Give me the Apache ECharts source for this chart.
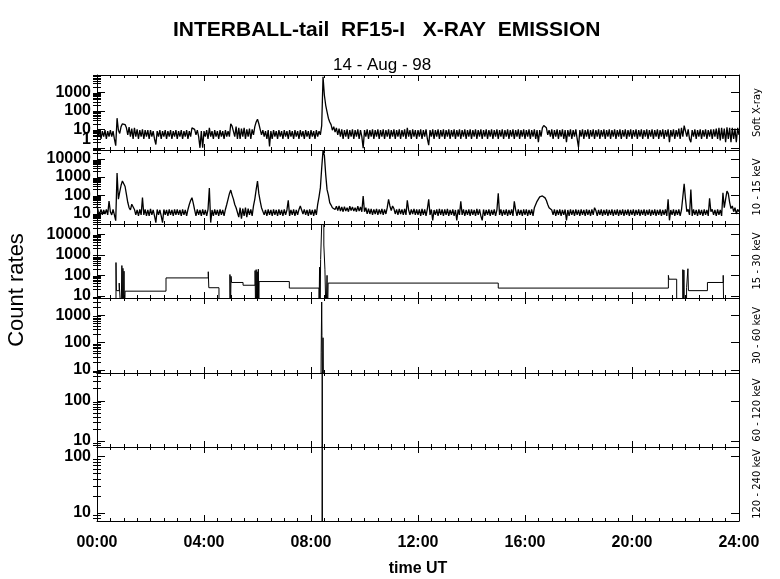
<!DOCTYPE html>
<html>
<head>
<meta charset="utf-8">
<title>INTERBALL-tail RF15-I X-ray emission</title>
<script src="https://cdn.jsdelivr.net/npm/echarts@6/dist/echarts.min.js"></script>
<style>
  html, body { margin: 0; padding: 0; background: #fff; }
  #main { width: 780px; height: 579px; }
</style>
</head>
<body>
<div id="main"></div>
<script>
// channel names (right hand labels), top to bottom
const channels = ['Soft X-ray', '10 - 15 keV', '15 - 30 keV', '30 - 60 keV', '60 - 120 keV', '120 - 240 keV']

// labelled decades on each panel
const decadeTicks = [
    [1, 10, 100, 1000],
    [10, 100, 1000, 10000],
    [10, 100, 1000, 10000],
    [10, 100, 1000],
    [10, 100],
    [10, 100]
]
// y limits of each panel (count rates)
const yLimits = [[0.76, 8700], [2.5, 31600], [7.9, 31600], [7.8, 4200], [7.1, 490], [7.2, 148]]

// hour labels on the time axis
const hourLabels = ['00:00', '04:00', '08:00', '12:00', '16:00', '20:00', '24:00']

// soft X-ray and 10-15 keV: one value every 3 minutes (0.05 h), one row per hour
const sampleStep = 0.05
const softXray = [
    8, 4, 9, 3, 8, 4, 9, 3, 8, 4, 9, 4, 8, 3, 1.3, 40, 9, 6, 14, 20,
    25, 18, 12, 5, 13, 4, 11, 3, 12, 4, 10, 3, 9, 4, 10, 3, 9, 4, 9, 3,
    9, 4, 8, 3, 1.5, 8, 4, 9, 3, 8, 4, 9, 3, 8, 4, 9, 3, 8, 4, 9,
    3, 8, 4, 9, 3, 8, 4, 9, 3, 8, 4, 12, 13, 10, 5, 9, 4, 1, 8, 1,
    8, 4, 9, 3, 12, 4, 8, 3, 9, 4, 8, 3, 9, 4, 8, 3, 9, 4, 8, 4,
    20, 15, 12, 4, 14, 3, 12, 3, 11, 4, 12, 3, 10, 4, 11, 3, 10, 5, 14, 25,
    35, 20, 10, 5, 9, 4, 8, 3, 9, 1.2, 8, 3, 9, 4, 8, 3, 9, 4, 8, 3,
    9, 4, 8, 3, 9, 4, 8, 3, 9, 4, 8, 3, 9, 4, 8, 3, 9, 4, 8, 3,
    9, 4, 8, 3, 9, 4, 8, 5, 16, 7000, 700, 200, 87, 40, 25, 18, 9, 14, 7, 12,
    5, 11, 4, 10, 3, 9, 4, 10, 3, 9, 4, 10, 3, 9, 4, 10, 3, 9, 4, 0.95,
    9, 4, 10, 3, 9, 4, 10, 3, 9, 4, 10, 3, 9, 4, 10, 3, 9, 4, 10, 3,
    9, 4, 10, 3, 9, 4, 10, 3, 9, 4, 10, 3, 12, 4, 9, 3, 10, 4, 9, 3,
    9, 4, 10, 3, 9, 4, 10, 3, 1.4, 9, 4, 10, 3, 9, 4, 10, 3, 9, 4, 10,
    3, 9, 4, 10, 3, 9, 4, 10, 3, 9, 4, 10, 3, 9, 4, 10, 3, 9, 4, 10,
    3, 9, 4, 10, 3, 9, 4, 10, 3, 9, 4, 10, 3, 9, 4, 10, 3, 9, 4, 10,
    3, 9, 4, 10, 3, 9, 4, 10, 3, 9, 4, 10, 3, 9, 4, 10, 3, 9, 4, 10,
    3, 9, 4, 10, 3, 9, 4, 10, 3, 9, 2, 9, 4, 12, 16, 13, 12, 5, 9, 4,
    10, 3, 9, 4, 10, 3, 9, 4, 10, 3, 9, 2, 9, 4, 10, 3, 9, 4, 10, 3,
    1.1, 9, 4, 10, 3, 9, 4, 10, 3, 9, 4, 10, 3, 9, 4, 10, 3, 9, 4, 10,
    3, 9, 4, 10, 3, 9, 4, 10, 3, 9, 4, 10, 3, 9, 4, 10, 3, 9, 4, 10,
    3, 9, 4, 10, 3, 9, 4, 10, 3, 9, 4, 10, 3, 9, 4, 10, 3, 9, 4, 10,
    3, 9, 4, 10, 3, 9, 4, 10, 2, 9, 4, 10, 3, 9, 4, 11, 3, 12, 4, 16,
    16, 4, 10, 3, 2, 9, 4, 10, 3, 9, 4, 10, 3, 9, 4, 10, 3, 9, 4, 10,
    3, 10, 4, 11, 3, 12, 2.5, 12, 3, 11, 2, 13, 3, 12, 2, 12, 3, 11, 2, 12,
    5
]
const kev10to15 = [
    25, 12, 9, 16, 8, 15, 9, 16, 8, 47, 12, 8, 16, 8, 3.8, 1670, 60, 150, 350, 600,
    720, 300, 110, 40, 20, 15, 31, 25, 16, 8, 15, 7, 16, 8, 72, 8, 16, 7, 15, 7,
    17, 8, 15, 7, 3, 16, 8, 15, 7, 3, 16, 8, 15, 7, 16, 8, 15, 7, 16, 8,
    16, 8, 15, 7, 16, 8, 15, 7, 16, 30, 50, 72, 35, 15, 7, 16, 8, 15, 7, 16,
    8, 15, 7, 16, 250, 3, 15, 7, 16, 8, 15, 7, 16, 8, 15, 7, 16, 30, 60, 120,
    190, 100, 60, 30, 20, 16, 6, 20, 5, 18, 7, 20, 6, 18, 8, 16, 7, 25, 60, 200,
    600, 120, 47, 20, 16, 8, 15, 7, 16, 8, 15, 7, 16, 8, 15, 7, 16, 8, 15, 7,
    16, 8, 15, 51, 7, 15, 8, 16, 7, 15, 8, 16, 25, 15, 9, 16, 8, 15, 7, 16,
    8, 15, 7, 16, 8, 31, 80, 250, 3160, 30000, 16000, 1370, 200, 100, 38, 28, 20, 25, 16, 24,
    14, 25, 13, 22, 12, 23, 13, 20, 12, 24, 14, 22, 13, 20, 12, 24, 13, 22, 12, 88,
    12, 20, 9, 18, 9, 17, 8, 16, 9, 17, 8, 16, 9, 17, 8, 16, 9, 20, 58, 25,
    14, 25, 18, 9, 16, 8, 17, 9, 16, 8, 17, 8, 51, 15, 8, 16, 9, 17, 8, 16,
    8, 16, 7, 17, 8, 16, 7, 17, 58, 8, 16, 4, 15, 8, 16, 7, 17, 8, 16, 7,
    16, 8, 17, 7, 15, 8, 16, 7, 15, 4, 16, 8, 45, 8, 16, 7, 15, 8, 16, 7,
    16, 8, 15, 7, 17, 8, 16, 7, 4, 16, 7, 15, 8, 16, 7, 15, 8, 16, 7, 15,
    124, 8, 16, 7, 15, 8, 16, 7, 15, 8, 16, 7, 45, 15, 7, 16, 8, 15, 7, 16,
    8, 16, 7, 15, 8, 16, 7, 20, 30, 45, 60, 80, 100, 90, 90, 70, 50, 30, 20, 16,
    15, 8, 16, 7, 15, 8, 16, 7, 15, 8, 16, 4, 15, 7, 16, 8, 15, 7, 16, 8,
    15, 7, 16, 8, 15, 7, 16, 8, 15, 7, 16, 8, 20, 14, 7, 15, 8, 16, 7, 15,
    8, 16, 7, 15, 8, 16, 7, 15, 8, 16, 7, 15, 8, 16, 7, 15, 8, 16, 7, 15,
    8, 16, 7, 15, 8, 16, 7, 15, 8, 16, 7, 15, 8, 16, 7, 15, 8, 16, 7, 15,
    8, 16, 7, 15, 8, 16, 7, 58, 4, 15, 8, 16, 7, 15, 8, 16, 7, 15, 16, 420,
    60, 12, 16, 8, 205, 7, 16, 8, 15, 7, 16, 8, 15, 7, 16, 8, 15, 7, 67, 12,
    16, 8, 15, 7, 16, 8, 15, 7, 135, 20, 60, 165, 120, 40, 18, 25, 12, 20, 9, 16,
    12
]

// 15-30 keV: value holds from each time until the next one (1 = below the axis)
const kev15to30Time = [0, 0.71, 0.725, 0.83, 0.90, 0.93, 0.95, 0.97, 0.99, 1.01, 1.03, 1.05, 2.58,
    4.16, 4.18, 4.56, 4.97, 4.99, 5.01, 5.03, 5.46, 5.91, 5.93, 5.95, 5.97, 5.99, 6.01, 6.03, 6.05, 6.06,
    7.19, 8.30, 8.32, 8.34, 8.36, 8.40, 8.48, 8.52, 8.56, 8.60, 8.62, 8.64, 15.0,
    21.36, 21.38, 21.67, 21.90, 21.92, 21.94, 21.96, 22.04, 22.09, 22.11, 22.82, 23.41, 23.43, 24]
const kev15to30 = [1, 420, 18, 42, 1, 300, 1, 220, 1, 160, 1, 17, 75,
    150, 25, 1, 110, 1, 90, 45, 33, 170, 1, 190, 1, 150, 1, 200, 1, 50,
    24, 1, 250, 1, 600, 30000, 3000, 200, 1, 100, 1, 42, 24,
    100, 65, 1, 190, 1, 180, 1, 25, 210, 18, 45, 100, 1, 1]

// 30-60 keV, 60-120 keV, 120-240 keV: only the flare shows up
const kev30to60Time = [0, 8.37, 8.38, 8.39, 8.40, 8.41, 8.42, 8.43, 8.45, 8.47, 24]
const kev30to60 = [1, 1, 45, 40, 3000, 180, 200, 1, 150, 1, 1]
const kev60to120Time = [0, 8.41, 8.42, 8.43, 24]
const kev60to120 = [1, 1, 2000, 1, 1]
const kev120to240Time = [0, 8.41, 8.42, 8.43, 24]
const kev120to240 = [1, 1, 1000, 1, 1]

const font = 'Liberation Sans'
const lg = v => Math.log10(v)
const toPoints = (times, values) => times.map((t, k) => [t, lg(values[k])])
const sampleTimes = arr => arr.map((_, k) => k * sampleStep)

const panelData = [
    toPoints(sampleTimes(softXray), softXray),
    toPoints(sampleTimes(kev10to15), kev10to15),
    toPoints(kev15to30Time, kev15to30),
    toPoints(kev30to60Time, kev30to60),
    toPoints(kev60to120Time, kev60to120),
    toPoints(kev120to240Time, kev120to240)
]
const stepped = [false, false, 'end', false, false, false]
const lineWidths = [1.3, 1.3, 1, 1, 1, 1]

const gridTop = [75, 150, 224, 298, 373, 447]
const gridH = [75, 74, 74, 75, 74, 74]

// 2..9 of every decade inside the range
function minorValues(lo, hi) {
    const out = []
    for (let d = Math.floor(lo) - 1; d <= Math.ceil(hi); d++) {
        for (let k = 2; k <= 9; k++) {
            const v = d + Math.log10(k)
            if (v > lo && v < hi) out.push(v)
        }
    }
    return out
}

const black = { color: '#000', width: 1 }
const labelFont = { color: '#000', fontFamily: font, fontSize: 16, fontWeight: 'bold' }
const decadeLabel = v => String(Math.round(Math.pow(10, v)))
const grids = [], xAxes = [], yAxes = [], series = []

channels.forEach((name, i) => {
    const last = i === channels.length - 1
    grids.push({ left: 97, right: 41, top: gridTop[i], height: gridH[i], outerBoundsMode: 'none' })

    const xBase = {
        type: 'value', gridIndex: i, min: 0, max: 24, interval: 4,
        axisLine: { onZero: false, lineStyle: black },
        axisTick: { inside: true, length: 6, lineStyle: black },
        minorTick: { show: true, splitNumber: 8, length: 3, lineStyle: black },
        splitLine: { show: false },
        minorSplitLine: { show: false },
        axisLabel: { show: false }
    }
    xAxes.push(Object.assign({}, xBase, {
        position: 'bottom',
        axisLabel: last ? Object.assign({ show: true, margin: 14, formatter: v => hourLabels[v / 4] }, labelFont) : { show: false },
        name: last ? 'time UT' : '',
        nameLocation: 'middle',
        nameGap: 40,
        nameTextStyle: labelFont
    }))
    xAxes.push(Object.assign({}, xBase, { position: 'top' }))

    const lo = lg(yLimits[i][0]), hi = lg(yLimits[i][1])
    const majors = decadeTicks[i].map(lg)
    const minors = minorValues(lo, hi)
    // the "1" sits right on the bottom edge, so it is lifted above its tick
    const lifted = majors.filter(v => v === 0)
    const centred = majors.filter(v => v !== 0)
    const yBase = {
        type: 'value', gridIndex: i, min: lo, max: hi,
        splitLine: { show: false },
        axisLine: { onZero: false, lineStyle: black }
    }
    yAxes.push(Object.assign({}, yBase, {
        position: 'left',
        axisTick: { inside: true, length: 8, customValues: majors, lineStyle: black },
        axisLabel: Object.assign({ customValues: centred, margin: 6, formatter: decadeLabel }, labelFont)
    }))
    yAxes.push(Object.assign({}, yBase, {
        position: 'left',
        axisLine: { show: false },
        axisTick: { inside: true, length: 4, customValues: minors, lineStyle: black },
        axisLabel: lifted.length
            ? Object.assign({ customValues: lifted, margin: 6, verticalAlign: 'bottom', formatter: decadeLabel }, labelFont)
            : { show: false }
    }))
    yAxes.push(Object.assign({}, yBase, {
        position: 'right',
        axisTick: { inside: true, length: 8, customValues: majors, lineStyle: black },
        axisLabel: { show: false },
        name: name,
        nameLocation: 'middle',
        nameRotate: 90,
        nameGap: 13,
        nameTextStyle: { color: '#000', fontFamily: 'DejaVu Sans', fontSize: 10 }
    }))
    yAxes.push(Object.assign({}, yBase, {
        position: 'right',
        axisLine: { show: false },
        axisTick: { inside: true, length: 4, customValues: minors, lineStyle: black },
        axisLabel: { show: false }
    }))

    series.push({
        type: 'line',
        xAxisIndex: i * 2,
        yAxisIndex: i * 4,
        data: panelData[i],
        step: stepped[i],
        showSymbol: false,
        symbol: 'none',
        clip: true,
        lineStyle: { color: '#000', width: lineWidths[i] }
    })
})

const chart = echarts.init(document.getElementById('main'))
chart.setOption({
    animation: false,
    backgroundColor: '#fff',
    title: [
        {
            text: 'INTERBALL-tail  RF15-I   X-RAY  EMISSION',
            left: 168, top: 15,
            textStyle: { color: '#000', fontFamily: font, fontSize: 21, fontWeight: 'bold' }
        },
        {
            text: '14 - Aug - 98',
            left: 328, top: 52,
            textStyle: { color: '#000', fontFamily: font, fontSize: 17, fontWeight: 'normal' }
        }
    ],
    graphic: [{
        type: 'text', x: 17, y: 290, rotation: Math.PI / 2,
        style: { text: 'Count rates', fill: '#000', font: '22px "Liberation Sans"', align: 'center', verticalAlign: 'middle' }
    }],
    grid: grids,
    xAxis: xAxes,
    yAxis: yAxes,
    series: series
})
</script>
</body>
</html>
